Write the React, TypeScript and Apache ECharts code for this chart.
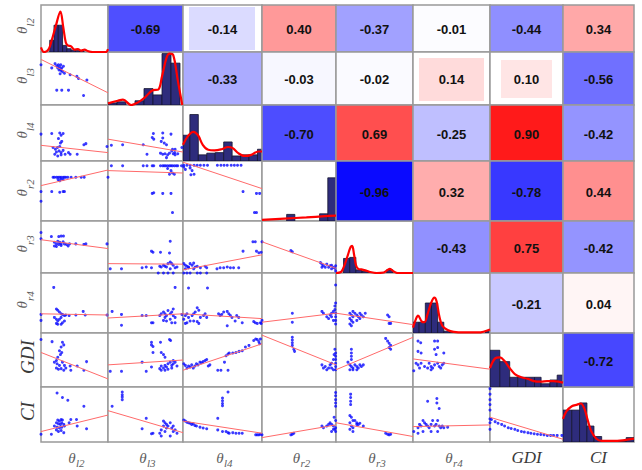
import React, { useEffect, useRef } from 'react';
import * as echarts from 'echarts';

// ---------- variables ----------
const VAR_MAIN = ['θ', 'θ', 'θ', 'θ', 'θ', 'θ', 'GDI', 'CI'];
const VAR_SUB = ['l2', 'l3', 'l4', 'r2', 'r3', 'r4', '', ''];

// ---------- correlations (upper triangle, row by row) ----------
const corrL2 = [-0.69, -0.14, 0.4, -0.37, -0.01, -0.44, 0.34];
const corrL3 = [-0.33, -0.03, -0.02, 0.14, 0.1, -0.56];
const corrL4 = [-0.7, 0.69, -0.25, 0.9, -0.42];
const corrR2 = [-0.96, 0.32, -0.78, 0.44];
const corrR3 = [-0.43, 0.75, -0.42];
const corrR4 = [-0.21, 0.04];
const corrGDI = [-0.72];

// ---------- histograms (bin edges, heights) ----------
const binsL2 = [0.13, 0.194, 0.258, 0.322, 0.386, 0.45, 0.514, 0.578, 0.642];
const histL2 = [0.25, 0.57, 0.57, 0.14, 0.07, 0.04, 0.03, 0.03];
const binsL3 = [0, 0.12, 0.24, 0.36, 0.48, 0.6, 0.72, 0.84, 0.96];
const histL3 = [0.04, 0.06, 0, 0.08, 0.31, 0.19, 0.97, 0.79];
const binsL4 = [0, 0.087, 0.194, 0.301, 0.408, 0.515, 0.622, 0.729, 0.836, 0.943, 1.0];
const histL4 = [0.46, 0.83, 0.11, 0.14, 0.15, 0.34, 0.09, 0.11, 0.11, 0.21];
const binsR2 = [0, 0.111, 0.222, 0.333, 0.444, 0.556, 0.667, 0.778, 0.889, 1.0];
const histR2 = [0, 0, 0, 0.11, 0, 0, 0, 0.12, 0.72];
const binsR3 = [0.018, 0.098, 0.178, 0.258, 0.338, 0.418, 0.498, 0.578, 0.658, 0.738];
const histR3 = [0, 0.28, 0.3, 0.06, 0.03, 0.01, 0, 0, 0.06];
const binsR4 = [0, 0.08, 0.16, 0.24, 0.32, 0.4, 0.48, 0.56, 0.64, 0.72, 0.8, 0.88, 0.94, 1.0];
const histR4 = [0.18, 0.18, 0.5, 0.5, 0.18, 0.03, 0.01, 0, 0, 0, 0, 0, 0.03];
const binsGDI = [0, 0.135, 0.27, 0.38, 0.49, 0.61, 0.7, 0.82, 0.92, 1.0];
const histGDI = [0.68, 0.47, 0.18, 0.18, 0.18, 0.18, 0.06, 0.13, 0.22];
const binsCI = [0, 0.124, 0.233, 0.337, 0.436, 0.545, 0.66, 0.77, 0.89, 1.0];
const histCI = [0.58, 0.58, 0.71, 0.29, 0.1, 0.01, 0.01, 0.01, 0.08];

// ---------- density curves ----------
const kdeL2 = [[0, 0.1], [0.045, 0], [0.11, 0.05], [0.16, 0.25], [0.22, 0.55], [0.29, 0.86], [0.33, 0.55], [0.37, 0.2], [0.4, 0.14], [0.45, 0.12], [0.5, 0.05], [0.55, 0.06], [0.6, 0.03], [0.65, 0.05], [0.7, 0.02], [0.77, 0], [0.97, 0], [1, 0.06]];
const kdeL3 = [[0, 0.03], [0.13, 0.08], [0.2, 0.1], [0.31, 0], [0.4, 0.05], [0.49, 0.14], [0.6, 0.28], [0.67, 0.29], [0.72, 0.54], [0.78, 0.89], [0.82, 0.97], [0.87, 0.94], [0.93, 0.47], [0.99, 0]];
const kdeL4 = [[0, 0.29], [0.06, 0.44], [0.13, 0.52], [0.19, 0.46], [0.25, 0.29], [0.32, 0.2], [0.4, 0.19], [0.485, 0.21], [0.57, 0.25], [0.63, 0.23], [0.7, 0.14], [0.78, 0.09], [0.865, 0.11], [0.95, 0.17], [1, 0.17]];
const kdeR2 = [[0, 0.02], [0.3, 0.04], [0.6, 0.06], [0.85, 0.08], [1, 0.09]];
const kdeR3 = [[0, 0], [0.067, 0.02], [0.11, 0.15], [0.155, 0.35], [0.19, 0.5], [0.21, 0.52], [0.235, 0.35], [0.26, 0.15], [0.29, 0.08], [0.33, 0.07], [0.38, 0.05], [0.44, 0.02], [0.53, 0], [0.62, 0.01], [0.67, 0.06], [0.7, 0.08], [0.75, 0.03], [0.8, 0], [1, 0]];
const kdeR4 = [[0, 0.09], [0.04, 0.24], [0.065, 0.29], [0.115, 0.19], [0.15, 0.18], [0.19, 0.32], [0.235, 0.5], [0.277, 0.59], [0.306, 0.53], [0.34, 0.29], [0.38, 0.12], [0.45, 0.05], [0.53, 0.02], [0.66, 0.01], [0.85, 0.01], [1, 0.06]];
const kdeGDI = [[0, 0.35], [0.07, 0.53], [0.135, 0.55], [0.2, 0.48], [0.27, 0.35], [0.34, 0.24], [0.43, 0.18], [0.52, 0.15], [0.6, 0.11], [0.7, 0.1], [0.78, 0.11], [0.87, 0.11], [0.94, 0.1], [1, 0.08]];
const kdeCI = [[0, 0.42], [0.05, 0.56], [0.124, 0.65], [0.2, 0.68], [0.25, 0.7], [0.3, 0.61], [0.35, 0.39], [0.4, 0.19], [0.47, 0.06], [0.545, 0.02], [0.69, 0.02], [0.84, 0.03], [1, 0.06]];

// ---------- scatter points (x: column variable, y: row variable, both scaled 0..1) ----------
const pts_l3_l2 = [[0, 0.76], [0.16, 0.7], [0.21, 0.78], [0.235, 0.74], [0.26, 0.76], [0.275, 0.72], [0.295, 0.76], [0.31, 0.7], [0.335, 0.73], [0.27, 0.66], [0.3, 0.65], [0.32, 0.63], [0.35, 0.6], [0.285, 0.59], [0.435, 0.57], [0.535, 0.54], [0.56, 0.5], [0.685, 0.47], [0.235, 0.28], [0.31, 0.28], [0.41, 0.28], [0.635, 0.18], [0.25, 0.7], [0.29, 0.68]];
const fit_l3_l2 = [0.86, 0.23];
const pts_l4_l2 = [[0, 0.48], [0.16, 0.49], [0.28, 0.5], [0.33, 0.49], [0.3, 0.46], [0.26, 0.4], [0.31, 0.35], [0.29, 0.32], [0.18, 0.24], [0.215, 0.21], [0.245, 0.24], [0.27, 0.18], [0.3, 0.15], [0.33, 0.19], [0.36, 0.12], [0.205, 0.12], [0.25, 0.09], [0.3, 0.11], [0.41, 0.15], [0.435, 0.12], [0.54, 0.12], [0.64, 0.29], [0.67, 0.31], [0.985, 0.26], [0.28, 0.26], [0.23, 0.16]];
const fit_l4_l2 = [0.28, 0.15];
const pts_r2_l2 = [[0, 0.49], [0, 0.33], [0.18, 0.73], [0.2, 0.73], [0.23, 0.73], [0.255, 0.73], [0.28, 0.73], [0.3, 0.73], [0.33, 0.73], [0.35, 0.73], [0.37, 0.73], [0.4, 0.73], [0.45, 0.73], [0.52, 0.73], [0.6, 0.73], [0.645, 0.73], [1.0, 0.73], [0.255, 0.69], [0.28, 0.67], [0.3, 0.7], [0.33, 0.69], [0.16, 0.49], [0.28, 0.48], [0.33, 0.49], [0.35, 0.49]];
const fit_r2_l2 = [0.59, 0.85];
const pts_r3_l2 = [[0, 0.78], [0, 0.66], [0.155, 0.7], [0.265, 0.7], [0.3, 0.71], [0.335, 0.71], [0.2, 0.59], [0.23, 0.56], [0.25, 0.61], [0.28, 0.59], [0.3, 0.56], [0.33, 0.6], [0.35, 0.56], [0.2, 0.52], [0.23, 0.51], [0.265, 0.55], [0.3, 0.53], [0.38, 0.55], [0.405, 0.52], [0.425, 0.56], [0.52, 0.56], [0.64, 0.55], [0.67, 0.56], [0.985, 0.56]];
const fit_r3_l2 = [0.64, 0.47];
const pts_r4_l2 = [[0.19, 0.76], [0, 0.31], [0, 0.21], [0.23, 0.4], [0.25, 0.38], [0.275, 0.35], [0.3, 0.32], [0.32, 0.31], [0.35, 0.29], [0.37, 0.3], [0.42, 0.29], [0.2, 0.26], [0.23, 0.23], [0.25, 0.2], [0.275, 0.23], [0.3, 0.26], [0.32, 0.17], [0.35, 0.2], [0.23, 0.16], [0.25, 0.145], [0.3, 0.145], [0.52, 0.3], [0.63, 0.36], [0.66, 0.3], [0.985, 0.3]];
const fit_r4_l2 = [0.32, 0.3];
const pts_gdi_l2 = [[0, 0.88], [0.165, 0.84], [0.32, 0.83], [0.34, 0.78], [0.3, 0.74], [0.275, 0.67], [0.31, 0.64], [0.29, 0.6], [0.25, 0.55], [0.23, 0.49], [0.2, 0.46], [0.24, 0.43], [0.275, 0.4], [0.32, 0.46], [0.35, 0.4], [0.23, 0.35], [0.26, 0.33], [0.3, 0.34], [0.34, 0.31], [0.37, 0.35], [0.435, 0.39], [0.445, 0.31], [0.54, 0.39], [0.64, 0.31], [0.68, 0.47]];
const fit_gdi_l2 = [0.64, 0.15];
const pts_ci_l2 = [[0.24, 0.89], [0.32, 0.81], [0.4, 0.76], [0.64, 0.65], [0, 0.14], [0.155, 0.14], [0.25, 0.4], [0.275, 0.38], [0.3, 0.41], [0.32, 0.4], [0.23, 0.35], [0.26, 0.33], [0.29, 0.32], [0.31, 0.35], [0.34, 0.32], [0.2, 0.29], [0.24, 0.27], [0.275, 0.255], [0.31, 0.27], [0.35, 0.29], [0.23, 0.22], [0.26, 0.19], [0.3, 0.21], [0.34, 0.17], [0.42, 0.35], [0.445, 0.41], [0.53, 0.41], [0.54, 0.29], [0.68, 0.24]];
const fit_ci_l2 = [0.19, 0.49];
const pts_l4_l3 = [[0.605, 0.49], [0.73, 0.5], [0.84, 0.48], [0.59, 0.42], [0.61, 0.39], [0.73, 0.41], [0.71, 0.35], [0.75, 0.32], [0.78, 0.29], [0.045, 0.28], [0.195, 0.29], [0.47, 0.29], [0.52, 0.12], [0.7, 0.14], [0.73, 0.12], [0.76, 0.13], [0.795, 0.11], [0.82, 0.14], [0.85, 0.18], [0.87, 0.13], [0.895, 0.11], [0.78, 0.06], [0.86, 0.21], [0.895, 0.21], [0.89, 0.15], [0.93, 0.13], [0.985, 0.24]];
const fit_l4_l3 = [0.39, 0.16];
const pts_r2_l3 = [[0.045, 0.92], [0.195, 0.92], [0.47, 0.92], [0.52, 0.92], [0.59, 0.92], [0.61, 0.92], [0.7, 0.92], [0.73, 0.92], [0.75, 0.92], [0.77, 0.92], [0.795, 0.92], [0.82, 0.92], [0.84, 0.92], [0.86, 0.92], [0.885, 0.92], [0.91, 0.92], [0.93, 0.92], [0.98, 0.92], [0.795, 0.875], [0.84, 0.84], [0.86, 0.8], [0.82, 0.78], [0.885, 0.78], [0.59, 0.46], [0.61, 0.47], [0.73, 0.46], [0.84, 0.46], [0.86, 0.14]];
const fit_r2_l3 = [0.84, 0.8];
const pts_r3_l3 = [[0.83, 0.61], [0.58, 0.42], [0.6, 0.4], [0.7, 0.4], [0.82, 0.385], [0.03, 0.08], [0.18, 0.08], [0.455, 0.1], [0.51, 0.115], [0.58, 0.1], [0.69, 0.13], [0.71, 0.115], [0.74, 0.15], [0.76, 0.13], [0.78, 0.115], [0.8, 0.18], [0.83, 0.21], [0.85, 0.18], [0.87, 0.15], [0.895, 0.1], [0.92, 0.115], [0.83, 0.08], [0.74, 0.0], [0.8, 0.0], [0.87, 0.0], [0.67, 0.0]];
const fit_r3_l3 = [0.18, 0.17];
const pts_r4_l3 = [[0.895, 0.76], [0.055, 0.36], [0.18, 0.31], [0.18, 0.13], [0.455, 0.29], [0.51, 0.29], [0.58, 0.17], [0.6, 0.17], [0.69, 0.29], [0.71, 0.32], [0.74, 0.35], [0.76, 0.32], [0.78, 0.29], [0.8, 0.376], [0.83, 0.32], [0.85, 0.35], [0.87, 0.29], [0.895, 0.26], [0.74, 0.21], [0.78, 0.2], [0.83, 0.23], [0.85, 0.17], [0.895, 0.17], [0.76, 0.26], [0.87, 0.4], [0.985, 0.31]];
const fit_r4_l3 = [0.25, 0.32];
const pts_gdi_l3 = [[0.58, 0.83], [0.58, 0.78], [0.6, 0.75], [0.7, 0.83], [0.82, 0.88], [0.835, 0.86], [0.6, 0.64], [0.71, 0.64], [0.74, 0.6], [0.76, 0.55], [0.03, 0.29], [0.18, 0.29], [0.455, 0.46], [0.51, 0.29], [0.58, 0.37], [0.69, 0.34], [0.71, 0.39], [0.74, 0.35], [0.76, 0.4], [0.78, 0.37], [0.8, 0.43], [0.83, 0.46], [0.85, 0.4], [0.87, 0.43], [0.895, 0.46], [0.92, 0.39], [0.71, 0.31], [0.76, 0.31], [0.8, 0.33], [0.85, 0.35], [0.87, 0.49]];
const fit_gdi_l3 = [0.41, 0.5];
const pts_ci_l3 = [[0.19, 0.91], [0.19, 0.86], [0.19, 0.82], [0.19, 0.77], [0.055, 0.65], [0.455, 0.24], [0.51, 0.43], [0.58, 0.15], [0.6, 0.16], [0.69, 0.16], [0.71, 0.22], [0.74, 0.38], [0.76, 0.35], [0.78, 0.32], [0.8, 0.29], [0.83, 0.35], [0.85, 0.255], [0.87, 0.29], [0.895, 0.22], [0.74, 0.29], [0.78, 0.255], [0.83, 0.11], [0.71, 0.11], [0.76, 0.19], [0.87, 0.19], [0.92, 0.16]];
const fit_ci_l3 = [0.57, 0.17];
const pts_r2_l4 = [[0.01, 0.93], [0.05, 0.93], [0.09, 0.93], [0.14, 0.93], [0.18, 0.93], [0.22, 0.93], [0.265, 0.93], [0.31, 0.93], [0.435, 0.93], [0.48, 0.93], [0.52, 0.93], [0.56, 0.93], [0.61, 0.93], [0.65, 0.93], [0.69, 0.93], [0.735, 0.93], [0.01, 0.9], [0.03, 0.86], [0.09, 0.885], [0.115, 0.84], [0.14, 0.78], [0.1, 0.77], [0.76, 0.49], [0.93, 0.46], [0.97, 0.46], [0.905, 0.14], [0.93, 0.14]];
const fit_r2_l4 = [0.98, 0.54];
const pts_r3_l4 = [[0.885, 0.6], [0.915, 0.6], [0.76, 0.42], [0.93, 0.42], [0.96, 0.39], [0.99, 0.4], [0.01, 0.18], [0.03, 0.15], [0.05, 0.13], [0.07, 0.115], [0.09, 0.18], [0.115, 0.15], [0.135, 0.19], [0.155, 0.115], [0.18, 0.13], [0.135, 0.08], [0.03, 0.08], [0.07, 0.1], [0.22, 0.1], [0.28, 0.13], [0.3, 0.1], [0.43, 0.08], [0.47, 0.1], [0.515, 0.1], [0.56, 0.115], [0.6, 0.1], [0.64, 0.1], [0.705, 0.1], [0.01, 0.0], [0.05, 0.0], [0.09, 0.0], [0.18, 0.0], [0.22, 0.0], [0.3, 0.0]];
const fit_r3_l4 = [0.06, 0.35];
const pts_r4_l4 = [[0.07, 0.75], [0.31, 0.75], [0.01, 0.23], [0.03, 0.29], [0.05, 0.32], [0.07, 0.26], [0.09, 0.2], [0.115, 0.29], [0.135, 0.32], [0.155, 0.35], [0.18, 0.42], [0.2, 0.38], [0.22, 0.26], [0.26, 0.29], [0.28, 0.32], [0.3, 0.26], [0.135, 0.2], [0.18, 0.19], [0.2, 0.16], [0.05, 0.17], [0.03, 0.16], [0.45, 0.32], [0.47, 0.29], [0.49, 0.31], [0.515, 0.35], [0.56, 0.36], [0.58, 0.32], [0.6, 0.29], [0.62, 0.26], [0.66, 0.2], [0.68, 0.29], [0.705, 0.26], [0.75, 0.17], [0.56, 0.12], [0.895, 0.19], [0.915, 0.17], [0.94, 0.16], [0.98, 0.17], [0.99, 0.16]];
const fit_r4_l4 = [0.32, 0.24];
const pts_gdi_l4 = [[0.01, 0.43], [0.03, 0.4], [0.05, 0.35], [0.07, 0.39], [0.09, 0.37], [0.11, 0.41], [0.13, 0.35], [0.15, 0.39], [0.17, 0.43], [0.19, 0.41], [0.215, 0.46], [0.235, 0.45], [0.255, 0.47], [0.28, 0.49], [0.3, 0.51], [0.32, 0.39], [0.44, 0.31], [0.48, 0.31], [0.57, 0.31], [0.34, 0.41], [0.525, 0.46], [0.545, 0.58], [0.57, 0.61], [0.585, 0.63], [0.63, 0.63], [0.67, 0.64], [0.71, 0.66], [0.75, 0.67], [0.79, 0.74], [0.835, 0.77], [0.895, 0.86], [0.92, 0.89], [0.94, 0.88], [0.96, 0.84], [0.98, 0.89], [0.97, 0.8]];
const fit_gdi_l4 = [0.31, 0.8];
const pts_ci_l4 = [[0.57, 0.91], [0.5, 0.8], [0.5, 0.75], [0.5, 0.7], [0.5, 0.66], [0.44, 0.43], [0.01, 0.4], [0.03, 0.38], [0.05, 0.36], [0.07, 0.35], [0.09, 0.34], [0.11, 0.32], [0.13, 0.33], [0.15, 0.3], [0.17, 0.29], [0.215, 0.27], [0.255, 0.255], [0.3, 0.24], [0.44, 0.22], [0.5, 0.19], [0.545, 0.19], [0.57, 0.17], [0.585, 0.16], [0.63, 0.17], [0.67, 0.16], [0.71, 0.16], [0.75, 0.16], [0.92, 0.13], [0.94, 0.13], [0.96, 0.13], [0.98, 0.14], [1.0, 0.13]];
const fit_ci_l4 = [0.38, 0.16];
const pts_r3_r2 = [[0, 0.6], [0.39, 0.43], [0.41, 0.41], [0.79, 0.2], [0.81, 0.17], [0.83, 0.14], [0.855, 0.11], [0.875, 0.17], [0.9, 0.11], [0.92, 0.14], [0.94, 0.15], [0.965, 0.11], [0.985, 0.09], [0.995, 0.14], [0.995, 0.04], [0.81, 0.11], [0.94, 0.08]];
const fit_r3_r2 = [0.6, 0.09];
const pts_r4_r2 = [[0.995, 0.8], [0, 0.21], [0.41, 0.33], [0.41, 0.18], [0.81, 0.36], [0.83, 0.33], [0.875, 0.27], [0.9, 0.24], [0.92, 0.3], [0.94, 0.33], [0.965, 0.36], [0.985, 0.39], [0.995, 0.33], [0.995, 0.27], [0.995, 0.21], [0.995, 0.15], [0.985, 0.45], [0.995, 0.5], [0.965, 0.21], [0.94, 0.27]];
const fit_r4_r2 = [0.18, 0.33];
const pts_gdi_r2 = [[0.41, 0.92], [0.41, 0.87], [0.41, 0.82], [0.41, 0.77], [0.43, 0.7], [0.44, 0.66], [0.81, 0.41], [0.83, 0.35], [0.855, 0.38], [0.875, 0.32], [0.9, 0.35], [0.92, 0.41], [0.94, 0.44], [0.965, 0.51], [0.975, 0.6], [0.985, 0.7], [0.995, 0.63], [0.995, 0.57], [0.995, 0.51], [0.995, 0.44], [0.995, 0.38], [0.995, 0.32], [0.965, 0.32], [0.94, 0.35]];
const fit_gdi_r2 = [0.96, 0.41];
const pts_ci_r2 = [[0.995, 0.9], [0.995, 0.84], [0.995, 0.77], [0.995, 0.71], [0.995, 0.65], [0.41, 0.14], [0.43, 0.16], [0.39, 0.13], [0.81, 0.29], [0.83, 0.26], [0.875, 0.29], [0.9, 0.32], [0.92, 0.35], [0.94, 0.32], [0.965, 0.29], [0.985, 0.23], [0.995, 0.19], [0.995, 0.26], [0.995, 0.39], [0.975, 0.45], [0.965, 0.23], [0.94, 0.19]];
const fit_ci_r2 = [0.08, 0.31];
const pts_r4_r3 = [[0.18, 0.33], [0.2, 0.3], [0.22, 0.27], [0.18, 0.24], [0.2, 0.21], [0.22, 0.18], [0.18, 0.15], [0.2, 0.12], [0.245, 0.33], [0.27, 0.3], [0.29, 0.27], [0.31, 0.33], [0.33, 0.3], [0.355, 0.27], [0.38, 0.33], [0.27, 0.21], [0.31, 0.24], [0.67, 0.3], [0.69, 0.27], [0.69, 0.16], [0.71, 0.16], [0.22, 0.36]];
const fit_r4_r3 = [0.33, 0.14];
const pts_gdi_r3 = [[0.2, 0.7], [0.2, 0.63], [0.2, 0.57], [0.2, 0.51], [0.18, 0.41], [0.2, 0.38], [0.22, 0.35], [0.245, 0.41], [0.27, 0.38], [0.29, 0.35], [0.31, 0.41], [0.33, 0.38], [0.355, 0.41], [0.18, 0.32], [0.22, 0.32], [0.27, 0.32], [0.155, 0.46], [0.645, 0.9], [0.67, 0.85], [0.69, 0.81], [0.71, 0.77], [0.69, 0.73], [0.71, 0.7]];
const fit_gdi_r3 = [0.32, 0.92];
const pts_ci_r3 = [[0.19, 0.87], [0.19, 0.81], [0.19, 0.74], [0.19, 0.68], [0.18, 0.48], [0.2, 0.45], [0.22, 0.39], [0.18, 0.35], [0.2, 0.29], [0.22, 0.26], [0.245, 0.39], [0.27, 0.35], [0.29, 0.32], [0.31, 0.34], [0.355, 0.29], [0.18, 0.23], [0.22, 0.19], [0.27, 0.32], [0.645, 0.16], [0.67, 0.14], [0.69, 0.13], [0.71, 0.14]];
const fit_ci_r3 = [0.35, 0.1];
const pts_gdi_r4 = [[0.065, 0.85], [0.1, 0.82], [0.065, 0.66], [0.105, 0.63], [0.28, 0.85], [0.32, 0.85], [0.28, 0.7], [0.32, 0.73], [0.01, 0.3], [0.04, 0.44], [0.065, 0.41], [0.085, 0.35], [0.105, 0.44], [0.15, 0.38], [0.19, 0.35], [0.21, 0.44], [0.235, 0.38], [0.255, 0.35], [0.28, 0.41], [0.3, 0.6], [0.32, 0.44], [0.34, 0.38], [0.36, 0.35], [0.38, 0.41], [0.4, 0.63], [0.4, 0.44], [0.235, 0.32]];
const fit_gdi_r4 = [0.52, 0.33];
const pts_ci_r4 = [[0.19, 0.74], [0.31, 0.79], [0.31, 0.71], [0.01, 0.19], [0.065, 0.26], [0.085, 0.32], [0.105, 0.29], [0.13, 0.39], [0.15, 0.35], [0.17, 0.32], [0.19, 0.29], [0.21, 0.26], [0.235, 0.32], [0.255, 0.39], [0.28, 0.29], [0.3, 0.32], [0.32, 0.39], [0.34, 0.29], [0.36, 0.26], [0.38, 0.29], [0.4, 0.26], [0.45, 0.27], [0.065, 0.16], [0.13, 0.19], [0.235, 0.19], [0.32, 0.19], [0.34, 0.61]];
const fit_ci_r4 = [0.28, 0.31];
const pts_ci_gdi = [[0, 0.97], [0, 0.87], [0, 0.77], [0, 0.68], [0, 0.58], [0, 0.23], [0, 0.35], [0, 0.42], [0.02, 0.41], [0.07, 0.37], [0.11, 0.34], [0.16, 0.32], [0.2, 0.29], [0.25, 0.26], [0.29, 0.245], [0.34, 0.23], [0.38, 0.21], [0.43, 0.19], [0.47, 0.18], [0.52, 0.17], [0.56, 0.16], [0.605, 0.15], [0.65, 0.14], [0.695, 0.135], [0.74, 0.13], [0.785, 0.12], [0.83, 0.12], [0.87, 0.12], [0.92, 0.12], [0.985, 0.12]];
const fit_ci_gdi = [0.45, 0.05];

// ---------- assembled lookups ----------
const CORR_ROWS = [corrL2, corrL3, corrL4, corrR2, corrR3, corrR4, corrGDI];
const HIST_BINS = [binsL2, binsL3, binsL4, binsR2, binsR3, binsR4, binsGDI, binsCI];
const HIST_H = [histL2, histL3, histL4, histR2, histR3, histR4, histGDI, histCI];
const KDE = [kdeL2, kdeL3, kdeL4, kdeR2, kdeR3, kdeR4, kdeGDI, kdeCI];
const SCATTER: Record<string, [number[][], number[]]> = {
  '1-0': [pts_l3_l2, fit_l3_l2],
  '2-0': [pts_l4_l2, fit_l4_l2], '2-1': [pts_l4_l3, fit_l4_l3],
  '3-0': [pts_r2_l2, fit_r2_l2], '3-1': [pts_r2_l3, fit_r2_l3], '3-2': [pts_r2_l4, fit_r2_l4],
  '4-0': [pts_r3_l2, fit_r3_l2], '4-1': [pts_r3_l3, fit_r3_l3], '4-2': [pts_r3_l4, fit_r3_l4], '4-3': [pts_r3_r2, fit_r3_r2],
  '5-0': [pts_r4_l2, fit_r4_l2], '5-1': [pts_r4_l3, fit_r4_l3], '5-2': [pts_r4_l4, fit_r4_l4], '5-3': [pts_r4_r2, fit_r4_r2], '5-4': [pts_r4_r3, fit_r4_r3],
  '6-0': [pts_gdi_l2, fit_gdi_l2], '6-1': [pts_gdi_l3, fit_gdi_l3], '6-2': [pts_gdi_l4, fit_gdi_l4], '6-3': [pts_gdi_r2, fit_gdi_r2], '6-4': [pts_gdi_r3, fit_gdi_r3], '6-5': [pts_gdi_r4, fit_gdi_r4],
  '7-0': [pts_ci_l2, fit_ci_l2], '7-1': [pts_ci_l3, fit_ci_l3], '7-2': [pts_ci_l4, fit_ci_l4], '7-3': [pts_ci_r2, fit_ci_r2], '7-4': [pts_ci_r3, fit_ci_r3], '7-5': [pts_ci_r4, fit_ci_r4], '7-6': [pts_ci_gdi, fit_ci_gdi],
};

// ---------- layout (pixels) ----------
const COLS = [41, 108, 183, 262, 336, 413, 490, 563, 634];
const ROWS = [5, 52, 105, 161, 221, 273, 333, 387, 442];
// inner margins of a few correlation tiles: [left, top, right, bottom]
const TILE_INSET: Record<string, number[]> = { '0-2': [6, 2, 7, 2], '1-5': [6, 6, 6, 4], '1-6': [11, 8, 11, 7] };

const LABEL_COLOR = '#5e5e5e';
const SERIF = '"Liberation Serif", "DejaVu Serif", serif';
const BORDER = '#999999';

function buildOption() {
  const grid: any[] = [];
  const xAxis: any[] = [];
  const yAxis: any[] = [];
  const series: any[] = [];
  const corrSeriesIdx: number[] = [];

  for (let r = 0; r < 8; r++) {
    for (let c = 0; c < 8; c++) {
      const g = grid.length;
      grid.push({
        left: COLS[c], top: ROWS[r],
        width: COLS[c + 1] - COLS[c], height: ROWS[r + 1] - ROWS[r],
        show: r >= c, borderColor: BORDER, borderWidth: 1.5, backgroundColor: '#ffffff',
      });
      xAxis.push({ gridIndex: g, type: 'value', min: 0, max: 1, show: false });
      yAxis.push({ gridIndex: g, type: 'value', min: 0, max: 1, show: false });
      const ax = { xAxisIndex: g, yAxisIndex: g };

      if (r < c) {
        const val = CORR_ROWS[r][c - r - 1];
        const inset = TILE_INSET[`${r}-${c}`] || [0, 0, 0, 0];
        corrSeriesIdx.push(series.length);
        series.push({
          type: 'custom', ...ax, silent: true,
          data: [[0.5, 0.5, val]],
          encode: { x: 0, y: 1 },
          renderItem: (params: any, api: any) => {
            const cs = params.coordSys;
            const v = api.value(2) as number;
            return {
              type: 'group',
              children: [
                { type: 'rect', shape: { x: cs.x, y: cs.y, width: cs.width, height: cs.height }, style: { fill: '#ffffff' } },
                {
                  type: 'rect',
                  shape: { x: cs.x + inset[0], y: cs.y + inset[1], width: cs.width - inset[0] - inset[2], height: cs.height - inset[1] - inset[3] },
                  style: { fill: api.visual('color') },
                },
                { type: 'rect', shape: { x: cs.x, y: cs.y, width: cs.width, height: cs.height }, style: { fill: 'none', stroke: BORDER, lineWidth: 1.5 } },
                {
                  type: 'text', x: cs.x + cs.width / 2, y: cs.y + cs.height / 2 + 1,
                  style: {
                    text: v.toFixed(2), fill: '#111111', font: 'bold 13px "Liberation Sans", Arial, sans-serif',
                    align: 'center', verticalAlign: 'middle', textAlign: 'center', textVerticalAlign: 'middle',
                  },
                },
              ],
            };
          },
        });
      } else if (r === c) {
        const bins = HIST_BINS[r];
        const data = HIST_H[r].map((h, i) => [bins[i], bins[i + 1], h]).filter((d) => d[2] > 0);
        series.push({
          type: 'custom', ...ax, silent: true, clip: true,
          data, encode: { x: [0, 1], y: 2 },
          renderItem: (params: any, api: any) => {
            const p0 = api.coord([api.value(0), 0]);
            const p1 = api.coord([api.value(1), api.value(2)]);
            return {
              type: 'rect',
              shape: { x: p0[0], y: p1[1], width: p1[0] - p0[0], height: p0[1] - p1[1] },
              style: { fill: '#2e2c7c', stroke: '#151530', lineWidth: 0.8 },
            };
          },
        });
        series.push({
          type: 'line', ...ax, data: KDE[r], smooth: 0.35, symbol: 'none', silent: true, z: 5,
          lineStyle: { color: '#ff0000', width: 2.2 },
        });
      } else {
        const [pts, fit] = SCATTER[`${r}-${c}`];
        series.push({
          type: 'scatter', ...ax, data: pts, symbol: 'circle', symbolSize: 3, silent: true, clip: false,
          itemStyle: { color: '#0a0aff' },
        });
        series.push({
          type: 'line', ...ax, data: [[0, fit[0]], [1, fit[1]]], symbol: 'none', silent: true,
          lineStyle: { color: '#ff6a6a', width: 1 },
        });
      }
    }
  }

  // axis labels
  const graphic: any[] = [];
  for (let i = 0; i < 8; i++) {
    const cx = (COLS[i] + COLS[i + 1]) / 2;
    const cy = (ROWS[i] + ROWS[i + 1]) / 2;
    if (VAR_SUB[i]) {
      graphic.push({ type: 'text', x: cx + 1, y: 458, style: { text: VAR_MAIN[i], font: `italic 15px ${SERIF}`, fill: LABEL_COLOR, align: 'right', verticalAlign: 'middle', textAlign: 'right', textVerticalAlign: 'middle' } });
      graphic.push({ type: 'text', x: cx + 1.5, y: 463, style: { text: VAR_SUB[i], font: `italic 11px ${SERIF}`, fill: LABEL_COLOR, align: 'left', verticalAlign: 'middle', textAlign: 'left', textVerticalAlign: 'middle' } });
      graphic.push({ type: 'text', x: 21.5, y: cy - 2, rotation: Math.PI / 2, style: { text: VAR_MAIN[i], font: `italic 15px ${SERIF}`, fill: LABEL_COLOR, align: 'right', verticalAlign: 'middle', textAlign: 'right', textVerticalAlign: 'middle' } });
      graphic.push({ type: 'text', x: 29.5, y: cy - 2, rotation: Math.PI / 2, style: { text: VAR_SUB[i], font: `italic 11px ${SERIF}`, fill: LABEL_COLOR, align: 'left', verticalAlign: 'middle', textAlign: 'left', textVerticalAlign: 'middle' } });
    } else {
      graphic.push({ type: 'text', x: cx, y: 457, style: { text: VAR_MAIN[i], font: `italic 17px ${SERIF}`, fill: '#3a3a3a', align: 'center', verticalAlign: 'middle', textAlign: 'center', textVerticalAlign: 'middle' } });
      graphic.push({ type: 'text', x: 27, y: cy - 3, rotation: Math.PI / 2, style: { text: VAR_MAIN[i], font: `italic 19px ${SERIF}`, fill: '#3a3a3a', align: 'center', verticalAlign: 'middle', textAlign: 'center', textVerticalAlign: 'middle' } });
    }
  }

  return {
    animation: false,
    backgroundColor: '#ffffff',
    grid, xAxis, yAxis, series, graphic,
    visualMap: {
      type: 'continuous', show: false, min: -1, max: 1, dimension: 2,
      seriesIndex: corrSeriesIdx,
      inRange: { color: ['#0000ff', '#ffffff', '#ff0000'] },
    },
  };
}

export default function App() {
  const ref = useRef<HTMLDivElement>(null);
  useEffect(() => {
    document.body.style.margin = '0';
    if (!ref.current) return;
    const chart = echarts.init(ref.current, undefined, { renderer: 'svg' });
    chart.setOption(buildOption() as any);
    return () => chart.dispose();
  }, []);
  return <div ref={ref} style={{ width: 642, height: 470 }} />;
}
